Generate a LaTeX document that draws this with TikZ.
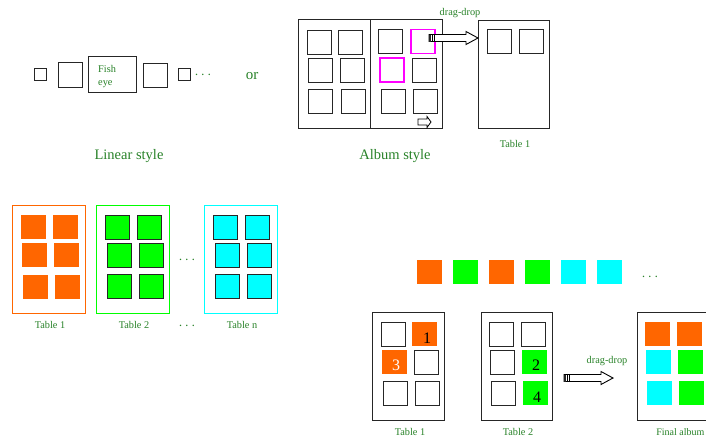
\documentclass[tikz,border=0pt]{standalone}
\usepackage{fontspec}
\setmainfont{Liberation Serif}
\usetikzlibrary{calc}
\definecolor{txtg}{RGB}{40,130,40}
\definecolor{orng}{RGB}{255,102,0}
\definecolor{grn}{RGB}{0,255,0}
\definecolor{cyn}{RGB}{0,255,255}
\definecolor{magc}{RGB}{255,0,255}
\tikzset{
  sq/.style={draw=black!85, line width=1pt, minimum width=24pt, minimum height=24pt, inner sep=0pt, outer sep=0pt},
  sm/.style={sq, minimum width=12pt, minimum height=12pt},
  fl/.style={fill=#1, draw=none, minimum width=25pt, minimum height=24pt, inner sep=0pt, outer sep=0pt},
  fb/.style={sq, fill=#1},
  mgbox/.style={draw=magc, line width=1.1pt, minimum width=24pt, minimum height=24pt, inner sep=0pt, outer sep=0pt},
  frame/.style={draw=black!85, line width=1pt, inner sep=0pt, outer sep=0pt},
  lbl/.style={text=txtg, font=\fontsize{10.3}{12}\selectfont, inner sep=0pt},
  big/.style={text=txtg, font=\fontsize{14.5}{17}\selectfont, inner sep=0pt},
  num/.style={font=\fontsize{16}{18}\selectfont, inner sep=0pt},
  dts/.style={text=txtg, font=\fontsize{15}{17}\selectfont, inner sep=0pt},
  blockarr/.pic={
    \draw[line width=0.9pt, fill=white] (0,-3.5) -- (37,-3.5) -- (37,-6.5) -- (49,0) -- (37,6.5) -- (37,3.5) -- (0,3.5) -- cycle;
    \fill[black!85] (0,-3.5) rectangle (1.6,3.5);
    \draw[line width=0.8pt] (3.2,-3.5) -- (3.2,3.5) (5,-3.5) -- (5,3.5);
  },
  smallarr/.pic={
    \draw[line width=0.8pt, fill=white] (0,-3) -- (9,-3) -- (9,-5.5) -- (13,0) -- (9,5.5) -- (9,3) -- (0,3) -- cycle;
  }
}
\begin{document}
\begin{tikzpicture}[x=1pt,y=-1pt]
\useasboundingbox (0,0) rectangle (706,439);
\clip (0,0) rectangle (706,439);
\fill[white] (0,0) rectangle (706,439);

% ---------- Linear style ----------
\node[sm] (l1) at (40,74) {};
\node[sq, minimum height=25pt] (l2) at (70,74.5) {};
\node[frame, minimum width=48pt, minimum height=36pt] (fish) at (112,74) {};
\node[lbl, anchor=base west] (fisht) at (98,72) {Fish};
\node[lbl, anchor=base west] (eyet) at (98,85.5) {eye};
\node[sq] (l4) at (155,75) {};
\node[sm] (l5) at (184,74) {};
\node[dts] (ldots) at (203,75) {$\cdots$};
\node[text=txtg, font=\fontsize{15}{17}\selectfont, inner sep=0pt] (or) at (252,76) {or};
\node[big] (linear) at (129,156) {Linear style};

% ---------- Album style ----------
\node[frame, minimum width=144pt, minimum height=109pt] (album) at (370,73.5) {};
\draw[frame] (album.north) -- (album.south);
\node[sq] (a1) at (319,42) {};
\node[sq] (a2) at (350.5,42) {};
\node[sq] (a3) at (320,70) {};
\node[sq] (a4) at (352,70) {};
\node[sq] (a5) at (320.5,101) {};
\node[sq] (a6) at (353,101) {};
\node[sq] (b1) at (390.5,41.5) {};
\node[mgbox] (b2) at (423,41.5) {};
\node[mgbox] (b3) at (392,70) {};
\node[sq] (b4) at (424,70) {};
\node[sq] (b5) at (393,101) {};
\node[sq] (b6) at (425,101) {};
\coordinate (nextpg) at (418,122);
\pic at (nextpg) {smallarr};

\node[frame, minimum width=71pt, minimum height=108pt] (tt1) at (513.5,74) {};
\node[sq] (t1a) at (499.5,41) {};
\node[sq] (t1b) at (531,41) {};
\coordinate (dd1) at ($(tt1.west)+(-49,-36)$);
\pic at (dd1) {blockarr};
\node[lbl] (ddl1) at (460,13) {drag-drop};
\node[lbl] (tt1l) at (515,144) {Table 1};
\node[big] (albumt) at (395,156) {Album style};

% ---------- Tables (bottom left) ----------
\node[frame, draw=orng, minimum width=73pt, minimum height=108pt] (T1) at (48.5,259) {};
\node[fl=orng] (o1) at (33.5,227) {};
\node[fl=orng] (o2) at (65.5,227) {};
\node[fl=orng] (o3) at (34.5,255) {};
\node[fl=orng] (o4) at (66.5,255) {};
\node[fl=orng] (o5) at (35.5,286.5) {};
\node[fl=orng] (o6) at (67.5,286.5) {};

\node[frame, draw=grn, minimum width=73pt, minimum height=108pt] (T2) at (132.5,259) {};
\node[fb=grn] (g1) at (117,227) {};
\node[fb=grn] (g2) at (149.5,227) {};
\node[fb=grn] (g3) at (119,255) {};
\node[fb=grn] (g4) at (151,255) {};
\node[fb=grn] (g5) at (119,286.5) {};
\node[fb=grn] (g6) at (151.5,286.5) {};

\node[frame, draw=cyn, minimum width=73pt, minimum height=108pt] (Tn) at (240.5,259) {};
\node[fb=cyn] (c1) at (225,227) {};
\node[fb=cyn] (c2) at (257.5,227) {};
\node[fb=cyn] (c3) at (227,255) {};
\node[fb=cyn] (c4) at (259,255) {};
\node[fb=cyn] (c5) at (227.5,286.5) {};
\node[fb=cyn] (c6) at (259.5,286.5) {};

\node[dts] (tdots) at (187,260) {$\cdots$};
\node[lbl] (T1l) at (50,325) {Table 1};
\node[lbl] (T2l) at (134,325) {Table 2};
\node[dts] (ldots2) at (187,326) {$\cdots$};
\node[lbl] (Tnl) at (242,325) {Table n};

% ---------- Bottom right ----------
\node[fl=orng] (r1) at (429.5,271.5) {};
\node[fl=grn] (r2) at (465.5,271.5) {};
\node[fl=orng] (r3) at (501.5,271.5) {};
\node[fl=grn] (r4) at (537,271.5) {};
\node[fl=cyn] (r5) at (573,271.5) {};
\node[fl=cyn] (r6) at (609,271.5) {};
\node[dts] (rdots) at (650,277) {$\cdots$};

\node[frame, minimum width=72pt, minimum height=108pt] (BT1) at (408,366) {};
\node[sq] (p1) at (393,334) {};
\node[fl=orng] (p2) at (424.5,334) {};
\node[fl=orng] (p3) at (394.5,362) {};
\node[sq] (p4) at (426.5,362) {};
\node[sq] (p5) at (395,393) {};
\node[sq] (p6) at (427,393) {};
\node[num] (n1) at (427,338) {1};
\node[num, text=white] (n3) at (396,365) {3};

\node[frame, minimum width=71pt, minimum height=108pt] (BT2) at (516.5,366) {};
\node[sq] (q1) at (501,334) {};
\node[sq] (q2) at (533,334) {};
\node[sq] (q3) at (502.5,362) {};
\node[fl=grn] (q4) at (534.5,362) {};
\node[sq] (q5) at (503,393) {};
\node[fl=grn] (q6) at (535.5,393) {};
\node[num] (n2) at (536,365) {2};
\node[num] (n4) at (537,397) {4};

\node[frame, minimum width=72pt, minimum height=108pt] (FA) at (673,366) {};
\node[fl=orng] (f1) at (657,334) {};
\node[fl=orng] (f2) at (689,334) {};
\node[fl=cyn] (f3) at (658.5,362) {};
\node[fl=grn] (f4) at (690.5,362) {};
\node[fl=cyn] (f5) at (659,393) {};
\node[fl=grn] (f6) at (691,393) {};

\coordinate (dd2) at ($(FA.west)+(-73,12)$);
\pic at (dd2) {blockarr};
\node[lbl] (ddl2) at (607,361) {drag-drop};

\node[lbl] (BT1l) at (410,432) {Table 1};
\node[lbl] (BT2l) at (518,432) {Table 2};
\node[lbl, font=\fontsize{10}{12}\selectfont, anchor=east] (FAl) at (704.5,432) {Final album};
\end{tikzpicture}
\end{document}
